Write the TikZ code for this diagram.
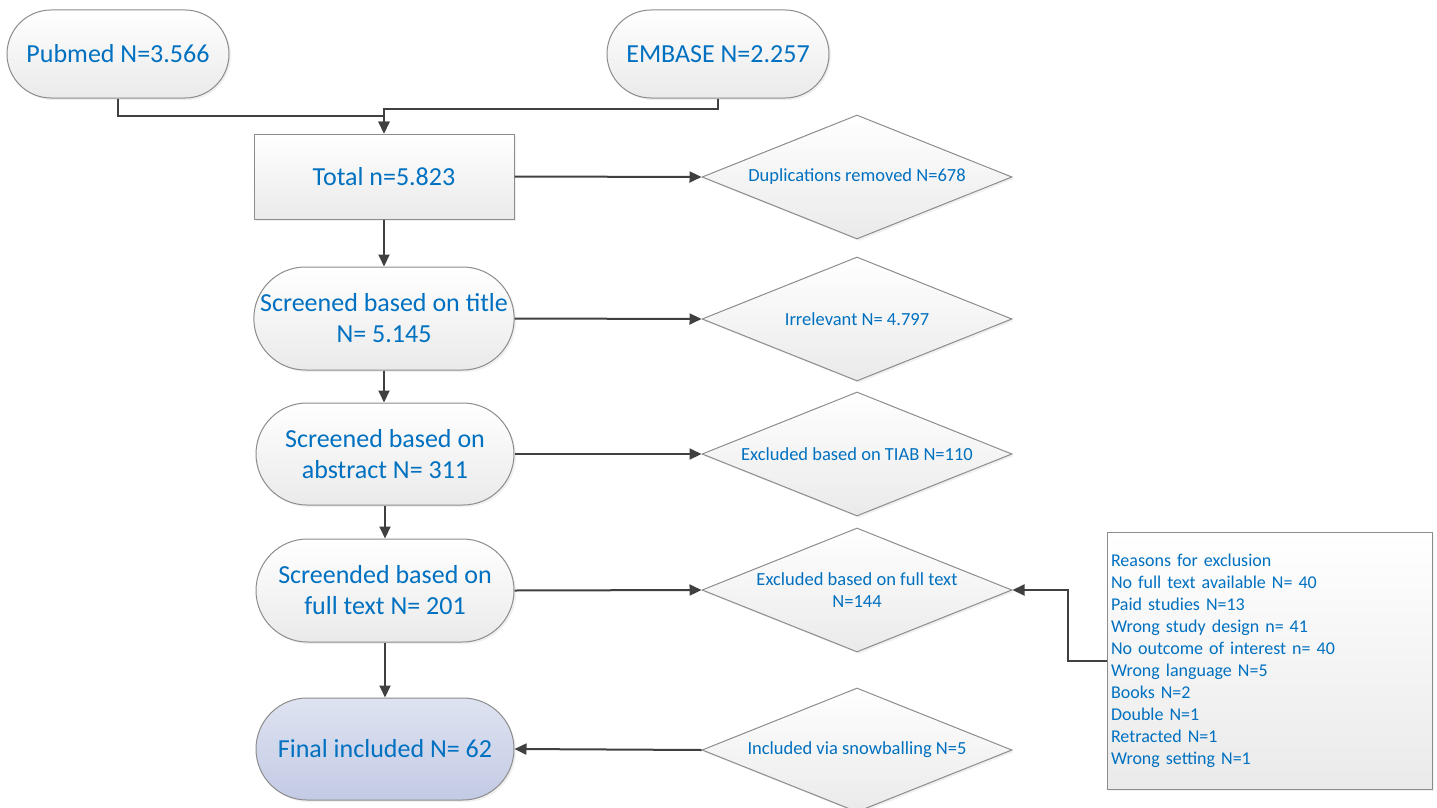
\documentclass[tikz,border=0pt]{standalone}
\usepackage{fontspec}
\setmainfont{Carlito}
\usetikzlibrary{shapes.geometric,shapes.misc,arrows.meta,shadows}
\definecolor{txtblue}{HTML}{0070C0}
\definecolor{linegray}{HTML}{404040}
\definecolor{bordergray}{HTML}{8C8C8C}
\definecolor{shadebottom}{HTML}{EAEAEA}
\definecolor{finaltop}{HTML}{DEE3F1}
\definecolor{finalbottom}{HTML}{C3CAE4}
\tikzset{
  base/.style={draw=bordergray, line width=1pt, text=txtblue, top color=white, bottom color=shadebottom,
    drop shadow={opacity=0.12, shadow xshift=2pt, shadow yshift=-2pt}},
  bigtext/.style={font=\fontsize{26}{31}\selectfont, align=center},
  smalltext/.style={font=\fontsize{18.5}{22}\selectfont, align=center},
  stadium/.style={base, bigtext, rounded rectangle, inner sep=0pt},
  boxnode/.style={base, bigtext, rectangle, inner sep=0pt},
  decision/.style={base, smalltext, diamond, aspect=2.5, inner sep=0pt, minimum width=310pt, minimum height=124pt},
  conn/.style={draw=linegray, line width=2pt},
  arr/.style={conn, -{Triangle[length=12pt,width=11pt]}},
}
\begin{document}
\begin{tikzpicture}[x=1pt,y=-1pt]
\useasboundingbox (0,0) rectangle (1437,808);
\clip (0,0) rectangle (1437,808);

\node[stadium, minimum width=222pt, minimum height=88pt] (pubmed) at (118,54) {Pubmed N=3.566};
\node[stadium, minimum width=222pt, minimum height=88pt] (embase) at (718,54) {EMBASE N=2.257};
\node[boxnode, minimum width=260pt, minimum height=85pt] (total) at (384,176.5) {Total n=5.823};
\node[stadium, minimum width=257pt, minimum height=103pt] (title) at (384,318.5) {Screened based on title\\N= 5.145};
\node[stadium, minimum width=258pt, minimum height=102pt] (abstract) at (385,454) {Screened based on\\abstract N= 311};
\node[stadium, minimum width=258pt, minimum height=103pt] (fulltext) at (385,590.5) {Screended based on\\full text N= 201};
\node[stadium, minimum width=258pt, minimum height=102pt, top color=finaltop, bottom color=finalbottom] (final) at (385,749) {Final included N= 62};

\node[decision] (dup) at (857,177) {Duplications removed N=678};
\node[decision] (irr) at (857,319) {Irrelevant N= 4.797};
\node[decision] (tiab) at (857,454) {Excluded based on TIAB N=110};
\node[decision] (excl) at (857,590) {Excluded based on full text\\N=144};
\node[decision] (snow) at (857,750) {Included via snowballing N=5};

\node[base, rectangle, minimum width=325pt, minimum height=257pt, text width=317pt, inner xsep=4pt, inner ysep=0pt,
  font=\fontsize{18}{22}\selectfont, align=left] (reasons) at (1269.5,660.5)
  {Reasons for exclusion\\No full text available N= 40\\Paid studies N=13\\Wrong study design n= 41\\No outcome of interest n= 40\\Wrong language N=5\\Books N=2\\Double N=1\\Retracted N=1\\Wrong setting N=1};

\draw[arr] (pubmed.south) -- ++(0,17) -| (total.north);
\draw[arr] (embase.south) -- ++(0,10) -| (total.north);
\draw[arr] (total.south) -- (title.north);
\draw[arr] (title.south) -- (title.south |- abstract.north);
\draw[arr] (abstract.south) -- (fulltext.north);
\draw[arr] (fulltext.south) -- (final.north);
\draw[arr] (total.east) -- (dup.west);
\draw[arr] (title.east) -- (irr.west);
\draw[arr] (abstract.east) -- (tiab.west);
\draw[arr] (fulltext.east) -- (excl.west);
\draw[arr] (snow.west) -- (final.east);
\draw[arr] (reasons.west) -- ++(-39,0) |- (excl.east);
\end{tikzpicture}
\end{document}
